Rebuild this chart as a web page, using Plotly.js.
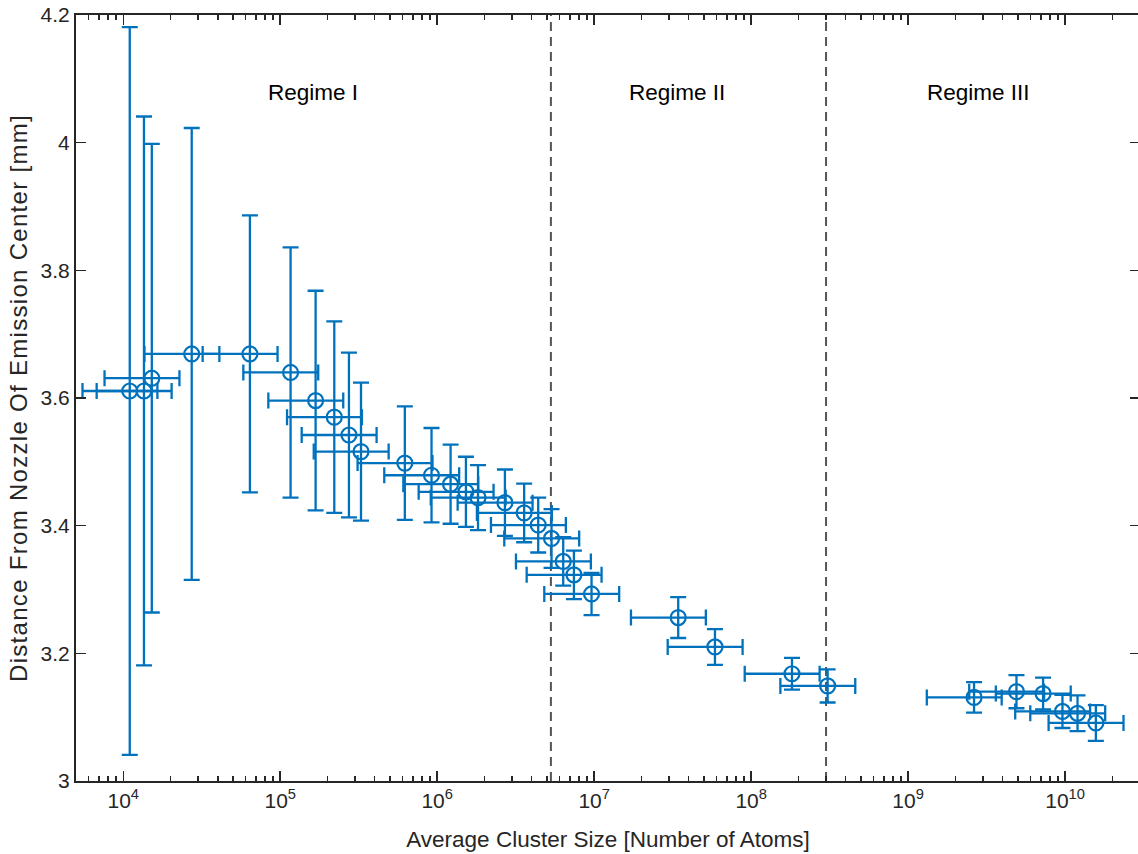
<!DOCTYPE html>
<html>
<head>
<meta charset="utf-8">
<script src="https://cdn.plot.ly/plotly-3.0.1.min.js"></script>
<style>
  html, body { margin: 0; padding: 0; background: #ffffff; overflow: hidden; }
  #chart { width: 1140px; height: 854px; }
  .ytitle { letter-spacing: 1.3px; }
</style>
</head>
<body>
<div id="chart"></div>
<script>
// Average cluster size [number of atoms]
const clusterSize = [1.10e4, 1.355e4, 1.52e4, 2.73e4, 6.41e4, 1.164e5, 1.68e5, 2.21e5, 2.74e5, 3.27e5,
  6.22e5, 9.2e5, 1.217e6, 1.524e6, 1.82e6, 2.70e6, 3.58e6, 4.40e6, 5.35e6, 6.35e6,
  7.43e6, 9.62e6, 3.43e7, 5.88e7, 1.82e8, 3.07e8, 2.63e9, 4.90e9, 7.24e9, 9.62e9,
  1.20e10, 1.57e10];
// Horizontal error (cluster size uncertainty)
const clusterSizeErr = [5.5e3, 6.78e3, 7.6e3, 1.365e4, 3.205e4, 5.82e4, 8.4e4, 1.105e5, 1.37e5, 1.635e5,
  3.11e5, 4.6e5, 6.085e5, 7.62e5, 9.1e5, 1.35e6, 1.79e6, 2.2e6, 2.675e6, 3.175e6,
  3.715e6, 4.81e6, 1.715e7, 2.94e7, 9.1e7, 1.535e8, 1.315e9, 2.45e9, 3.62e9, 4.81e9,
  6.0e9, 7.85e9];
// Distance from nozzle of emission center [mm]
const distance = [3.611, 3.611, 3.631, 3.669, 3.669, 3.640, 3.596, 3.570, 3.542, 3.516,
  3.498, 3.479, 3.465, 3.453, 3.444, 3.436, 3.420, 3.401, 3.380, 3.344,
  3.323, 3.293, 3.256, 3.210, 3.168, 3.149, 3.131, 3.140, 3.137, 3.109,
  3.106, 3.091];
// Vertical error (distance uncertainty)
const distanceErr = [0.570, 0.430, 0.367, 0.354, 0.217, 0.196, 0.172, 0.150, 0.129, 0.108,
  0.089, 0.074, 0.062, 0.055, 0.051, 0.052, 0.046, 0.043, 0.046, 0.038,
  0.038, 0.033, 0.032, 0.028, 0.025, 0.026, 0.024, 0.026, 0.025, 0.026,
  0.028, 0.028];
// Regime boundaries (cluster size)
const regimeBoundaries = [5.3e6, 3.0e8];
// Regime labels and their positions
const regimeLabels = ["Regime I", "Regime II", "Regime III"];
const regimeLabelX = [1.61e5, 3.37e7, 2.82e9];
const regimeLabelY = [4.079, 4.079, 4.079];
// Axis ticks
const xTickVals = [1e4, 1e5, 1e6, 1e7, 1e8, 1e9, 1e10];
const xTickText = ["10<sup>4</sup>", "10<sup>5</sup>", "10<sup>6</sup>", "10<sup>7</sup>", "10<sup>8</sup>", "10<sup>9</sup>", "10<sup>10</sup>"];
const yTickVals = [3, 3.2, 3.4, 3.6, 3.8, 4, 4.2];
const yTickText = ["3", "3.2", "3.4", "3.6", "3.8", "4", "4.2"];
const yRange = [3, 4.2];
const xRangeVals = [5e3, 3e10];

const blue = "#0072BD";
const axisColor = "#262626";
const fontFam = "Liberation Sans, Arial, Helvetica, sans-serif";

// minor ticks (2..9 per decade)
const minorVals = [];
for (let e = 3; e <= 10; e++) {
  for (let m = 2; m <= 9; m++) {
    const v = m * Math.pow(10, e);
    if (v > xRangeVals[0] && v < xRangeVals[1]) minorVals.push(v);
  }
}

const traces = [];
regimeBoundaries.forEach(b => {
  traces.push({
    x: [b, b], y: yRange, mode: "lines", type: "scatter",
    line: { color: "#555555", width: 2, dash: "9px,6px" },
    hoverinfo: "skip", showlegend: false
  });
});
traces.push({
  x: clusterSize, y: distance, type: "scatter", mode: "markers",
  marker: { symbol: "circle-open", size: 15, color: blue, line: { color: blue, width: 2.2 } },
  error_x: { type: "data", array: clusterSizeErr, symmetric: true, color: blue, thickness: 2.3, width: 8 },
  error_y: { type: "data", array: distanceErr, symmetric: true, color: blue, thickness: 2.3, width: 8 },
  showlegend: false
});

const annotations = regimeLabels.map((t, i) => ({
  x: Math.log10(regimeLabelX[i]), y: regimeLabelY[i], xref: "x", yref: "y",
  text: t, showarrow: false, font: { family: fontFam, size: 22.5, color: "#000000" }
}));

const layout = {
  width: 1140, height: 854,
  margin: { l: 76, r: 0, t: 15, b: 73 },
  paper_bgcolor: "#ffffff", plot_bgcolor: "#ffffff",
  font: { family: fontFam, color: axisColor },
  showlegend: false,
  xaxis: {
    type: "log",
    range: [Math.log10(xRangeVals[0]), Math.log10(xRangeVals[1])],
    tickmode: "array", tickvals: xTickVals, ticktext: xTickText,
    ticks: "inside", ticklen: 10, tickwidth: 1.5, tickcolor: axisColor,
    minor: { tickmode: "array", tickvals: minorVals, ticks: "inside", ticklen: 5, tickwidth: 1.5, tickcolor: axisColor, showgrid: false },
    showline: true, linecolor: axisColor, linewidth: 2, mirror: "allticks",
    showgrid: false, zeroline: false,
    tickfont: { family: fontFam, size: 21, color: axisColor },
    title: { text: "Average Cluster Size [Number of Atoms]", font: { family: fontFam, size: 22.5, color: axisColor }, standoff: 20 }
  },
  yaxis: {
    range: yRange,
    tickmode: "array", tickvals: yTickVals, ticktext: yTickText,
    ticks: "inside", ticklen: 10, tickwidth: 1.5, tickcolor: axisColor,
    showline: true, linecolor: axisColor, linewidth: 2, mirror: "allticks",
    showgrid: false, zeroline: false,
    tickfont: { family: fontFam, size: 21, color: axisColor },
    title: { text: "Distance From Nozzle Of Emission Center [mm]", font: { family: fontFam, size: 24, color: axisColor }, standoff: 6 }
  },
  annotations: annotations
};

Plotly.newPlot("chart", traces, layout, { displayModeBar: false, staticPlot: true });
</script>
</body>
</html>
